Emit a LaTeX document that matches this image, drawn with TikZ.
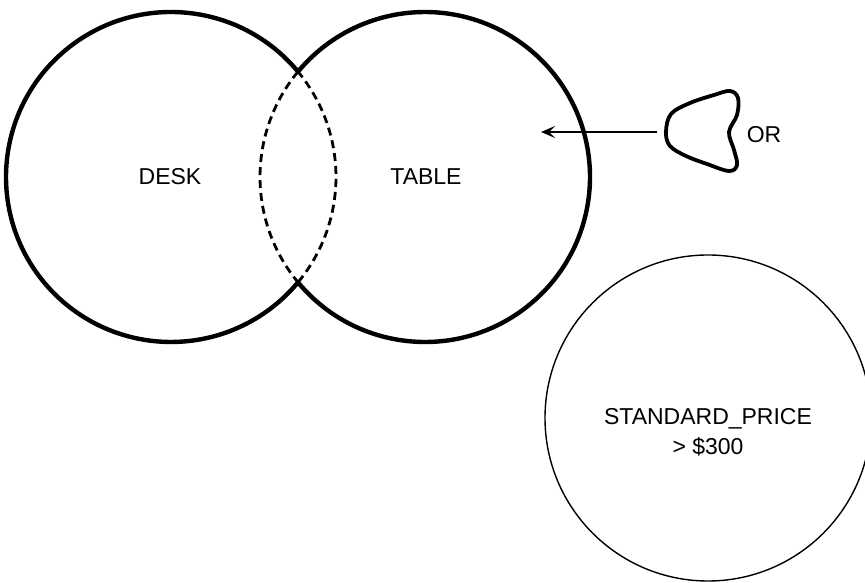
\documentclass[tikz,border=0pt]{standalone}
\usepackage{fontspec}
\setmainfont{Liberation Sans}
\usetikzlibrary{arrows.meta}
\begin{document}
\begin{tikzpicture}[x=1pt,y=1pt,
  venn/.style={line width=4.4pt},
  vennhidden/.style={line width=2.8pt, dash pattern=on 8pt off 5pt},
  thinring/.style={line width=1.4pt},
  label/.style={font=\fontsize{23}{30}\selectfont, inner sep=0pt, align=center},
  blob/.style={line width=3.8pt, line join=round},
  pointer/.style={line width=1.2pt, -{Stealth[length=14pt,width=12pt,inset=6pt]}}]
\useasboundingbox (0,0) rectangle (865,583);
% centres
\coordinate (Lc) at (171,406);
\coordinate (Rc) at (425,406);
\coordinate (Sc) at (708,165);
% left circle (DESK)
\draw[venn] ([shift={(39.58:165)}]Lc) arc[start angle=39.58, end angle=320.42, radius=165];
\draw[vennhidden] ([shift={(-39.58:165)}]Lc) arc[start angle=-39.58, end angle=39.58, radius=165];
% right circle (TABLE)
\draw[venn] ([shift={(-140.42:165)}]Rc) arc[start angle=-140.42, end angle=140.42, radius=165];
\draw[vennhidden] ([shift={(140.42:165)}]Rc) arc[start angle=140.42, end angle=219.58, radius=165];
% price circle
\draw[thinring] (Sc) circle[radius=163];
% labels
\node[label] (desk) at (170,406) {DESK};
\node[label] (table) at (426,406) {TABLE};
\node[label] (price) at (708,151) {STANDARD\_PRICE\\> \$300};
\node[label] (or) at (764,448) {OR};
% OR symbol
\draw[blob] plot[smooth cycle, tension=0.6] coordinates {
  (666,451) (671,469) (690,480) (714,488) (730,492) (738,485)
  (737,468) (729,451) (734,433) (737,418) (729,412)
  (707,419) (686,427) (670,437)};
\coordinate (orleft) at (657,451);
\coordinate (target) at (541,451);
\draw[pointer] (orleft) -- (target);
\end{tikzpicture}
\end{document}
